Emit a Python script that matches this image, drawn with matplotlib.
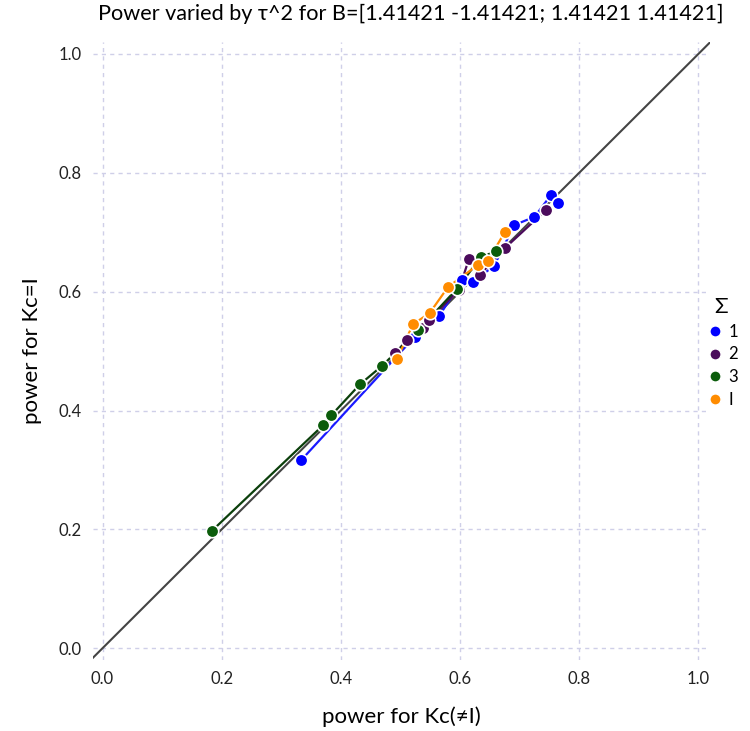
import matplotlib
matplotlib.use("Agg")
import matplotlib.pyplot as plt
from matplotlib.lines import Line2D

plt.rcParams['font.family'] = ['Lato', 'DejaVu Sans']

labels = ["1", "2", "3", "I"]
colors = ["#0000FF", "#4B0B5C", "#0B5C0B", "#FF8C00"]
line_colors = ["#1A1AFF", "#4B0B5C", "#0B3F0B", "#FF8C00"]

x_s1 = [0.333, 0.524, 0.565, 0.604, 0.621, 0.657, 0.691, 0.725, 0.753, 0.764]
y_s1 = [0.316, 0.524, 0.559, 0.620, 0.617, 0.643, 0.712, 0.726, 0.763, 0.749]

x_s2 = [0.491, 0.511, 0.538, 0.548, 0.598, 0.615, 0.633, 0.675, 0.744]
y_s2 = [0.496, 0.519, 0.539, 0.552, 0.603, 0.655, 0.628, 0.673, 0.737]

x_s3 = [0.183, 0.370, 0.384, 0.432, 0.469, 0.530, 0.595, 0.635, 0.660]
y_s3 = [0.197, 0.375, 0.392, 0.444, 0.475, 0.535, 0.605, 0.658, 0.668]

x_sI = [0.494, 0.521, 0.549, 0.580, 0.630, 0.647, 0.675]
y_sI = [0.486, 0.545, 0.564, 0.608, 0.645, 0.652, 0.700]

xs = [x_s1, x_s2, x_s3, x_sI]
ys = [y_s1, y_s2, y_s3, y_sI]

xticks = [0.0, 0.2, 0.4, 0.6, 0.8, 1.0]
yticks = [0.0, 0.2, 0.4, 0.6, 0.8, 1.0]

fig = plt.figure(figsize=(7.5, 7.31), dpi=100)
ax = fig.add_axes([0.124, 0.097, 0.823, 0.8454])

lo, hi = -0.016, 1.02
ax.plot([lo, hi], [lo, hi], color="#444444", lw=1.5, zorder=2)

for x, y, c, lc in zip(xs, ys, colors, line_colors):
    ax.plot(x, y, color=lc, lw=1.6, zorder=3)
for x, y, c in zip(xs, ys, colors):
    ax.plot(x, y, ls="none", marker="o", ms=9, mfc=c, mec="white", mew=1.2, zorder=4)

ax.set_xlim(lo, hi)
ax.set_ylim(-0.02, 1.02)
ax.set_xticks(xticks)
ax.set_yticks(yticks)
ax.set_xticklabels([f"{t:.1f}" for t in xticks])
ax.set_yticklabels([f"{t:.1f}" for t in yticks])
ax.tick_params(length=0, labelsize=12, pad=8, colors="#222222")
for s in ax.spines.values():
    s.set_visible(False)
ax.grid(True, ls=(0, (3, 3)), color="#CFCFE8", lw=1)
ax.set_axisbelow(True)

ax.set_xlabel("power for Kc(≠I)", fontsize=16, labelpad=14)
ax.set_ylabel("power for Kc=I", fontsize=16, labelpad=12)
fig.text(0.548, 0.981, "Power varied by τ^2 for B=[1.41421 -1.41421; 1.41421 1.41421]",
         ha="center", va="center", fontsize=15.6)

handles = [Line2D([], [], ls="none", marker="o", ms=8, mfc=c, mec="white", mew=1) for c in colors]
leg = fig.legend(handles, labels, title="Σ", loc="center left", bbox_to_anchor=(0.92, 0.518),
                 frameon=False, fontsize=12, title_fontsize=16, handletextpad=0.2,
                 labelspacing=0.4, handlelength=1.2)

fig.savefig("out.png", dpi=100)
